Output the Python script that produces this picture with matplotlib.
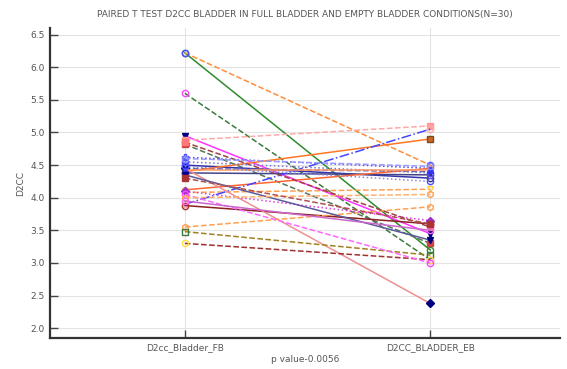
import matplotlib
matplotlib.use('Agg')
import matplotlib.pyplot as plt
import numpy as np

# paired D2CC values, full bladder (FB) vs empty bladder (EB)
conditions = ['D2cc_Bladder_FB', 'D2CC_BLADDER_EB']
fb_values = [6.22, 6.22, 5.60, 4.95, 4.88, 4.82, 4.62, 4.50, 4.45, 4.40,
             4.38, 4.12, 4.08, 3.90, 3.88, 4.45, 3.55, 3.48, 3.30, 4.10,
             4.05, 4.85, 4.55, 4.42, 4.35, 4.00, 4.48, 3.95, 4.60, 4.30]
eb_values = [3.20, 4.50, 3.05, 3.45, 5.10, 3.30, 4.45, 4.30, 4.40, 4.90,
             4.35, 4.45, 4.13, 5.05, 3.60, 2.38, 3.86, 3.12, 3.05, 3.65,
             3.00, 3.55, 4.38, 4.42, 3.35, 4.05, 4.25, 3.50, 4.48, 3.60]

# style of each pair (colour, line style, marker)
line_colors = ['#2e8b2e', '#ff8c3a', '#3c7a3c', '#ff33ff', '#ffaaaa', '#557755',
               '#4d4dff', '#3333aa', '#6666bb', '#ff7722', '#444488', '#ff6633',
               '#ffa050', '#4444ff', '#8b2020', '#f09090', '#ffa050', '#a08020',
               '#a03030', '#dd44dd', '#ff66ff', '#a04040', '#7777cc', '#ff9966',
               '#5a5a9a', '#ffb070', '#8888dd', '#cc66cc', '#9999ff', '#b05050']
line_styles = ['-', '--', '--', '-', '--', '--', ':', '-', '--', '-',
               '-', '-', '--', '-.', '-', '-', '--', '--', '--', ':',
               '--', '--', ':', '-', '-', '--', ':', '-', '--', '--']
markers = ['o', 'o', 'o', 'v', 's', 's', 'P', 'o', 'v', 's',
           'o', 'h', 'v', 'o', 'o', 'D', 'h', 's', 'o', 'D',
           'o', 's', 'o', '^', 'v', 'h', 'o', 'o', 'o', 's']
marker_faces = ['none', 'none', 'none', '#000080', '#ff9999', '#cc4444', 'none', 'white', '#000080', '#cc6622',
                'none', 'none', 'none', 'none', 'none', '#000080', 'none', 'none', 'none', '#9933cc',
                'none', '#ff7777', 'none', '#3333ff', '#000080', 'none', 'none', 'none', 'none', '#aa3333']
marker_edges = ['#2e8b2e', '#4d4dff', '#ff44ff', '#000080', '#ff9999', '#cc4444', '#4d4dff', '#333366', '#000080', '#7a4a22',
                '#7a4a9a', '#ffa050', '#ffd040', '#ffaaaa', '#aa3333', '#000080', '#ffa050', '#3c7a3c', '#ffe040', '#9933cc',
                '#ff44ff', '#ff7777', '#4d4dff', '#3333ff', '#000080', '#ffa050', '#4d4dff', '#ff66ff', '#8888ff', '#aa3333']

fig = plt.figure(figsize=(5.67, 3.69), dpi=100)
ax = fig.add_axes([0.088, 0.084, 0.9, 0.84])

x = np.arange(len(conditions))
for i in range(len(fb_values)):
    ax.plot(x, [fb_values[i], eb_values[i]], color=line_colors[i], ls=line_styles[i], lw=1.1,
            marker=markers[i], markersize=4.5, markerfacecolor=marker_faces[i],
            markeredgecolor=marker_edges[i], markeredgewidth=1.0, zorder=3)

fontSize = 6.5
txt = '#555555'

ax.set_xlim(-0.55, 1.53)
ax.set_ylim(1.85, 6.6)
ax.set_xticks(x)
ax.set_xticklabels(conditions, fontsize=fontSize, color=txt)
ax.set_yticks(np.arange(2.0, 6.51, 0.5))
ax.set_yticklabels(['%.1f' % v for v in np.arange(2.0, 6.51, 0.5)], fontsize=fontSize, color=txt)
ax.tick_params(direction='in', length=6, width=1, color='#444444')

ax.grid(True, color='#e4e4e4', lw=0.8)
ax.set_axisbelow(True)
for s in ['top', 'right']:
    ax.spines[s].set_visible(False)
for s in ['left', 'bottom']:
    ax.spines[s].set_linewidth(1.6)
    ax.spines[s].set_color('#333333')

ax.set_title('PAIRED T TEST D2CC BLADDER IN FULL BLADDER AND EMPTY BLADDER CONDITIONS(N=30)',
             fontsize=fontSize, color=txt, pad=8)
ax.set_xlabel('p value-0.0056', fontsize=fontSize, color=txt, labelpad=2)
ax.set_ylabel('D2CC', fontsize=fontSize, color=txt)

plt.savefig('out.png', dpi=100)
